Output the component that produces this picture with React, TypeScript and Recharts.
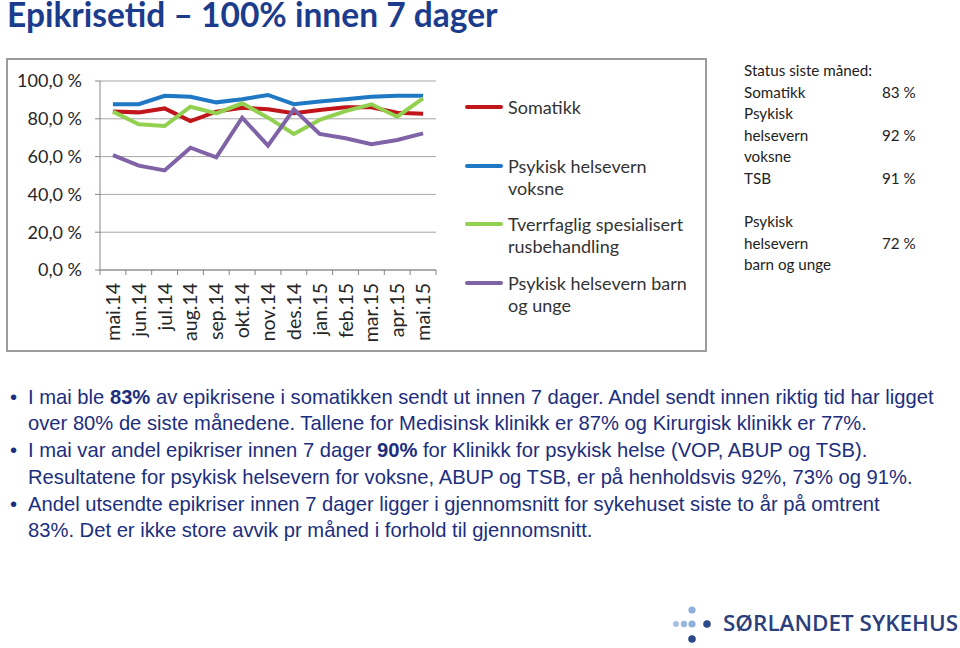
import { LineChart, Line, XAxis, YAxis, CartesianGrid, Legend } from "recharts";

const months = ["mai.14", "jun.14", "jul.14", "aug.14", "sep.14", "okt.14", "nov.14", "des.14", "jan.15", "feb.15", "mar.15", "apr.15", "mai.15"];
const somatikk = [83.8, 83.4, 85.5, 78.8, 83.8, 85.9, 85.0, 82.9, 84.7, 86.1, 86.1, 83.2, 82.7];
const voksne = [87.7, 87.7, 92.2, 91.7, 88.7, 90.3, 92.6, 87.7, 89.1, 90.3, 91.7, 92.2, 92.2];
const tsb = [83.8, 77.1, 76.2, 86.4, 82.9, 88.2, 80.6, 72.0, 79.4, 84.1, 87.7, 81.1, 90.8];
const barnUnge = [60.8, 55.2, 52.7, 64.7, 59.6, 80.6, 65.8, 85.0, 72.0, 69.7, 66.5, 68.8, 72.3];
const yTicks = [0, 20, 40, 60, 80, 100];

const seriesKeys = ["somatikk", "voksne", "tsb", "barn"];
const seriesNames = ["Somatikk", "Psykisk helsevern voksne", "Tverrfaglig spesialisert rusbehandling", "Psykisk helsevern barn og unge"];
const legendLabels = ["Somatikk", "Psykisk helsevern\nvoksne", "Tverrfaglig spesialisert\nrusbehandling", "Psykisk helsevern barn\nog unge"];
const seriesColors = ["#c0161b", "#1f78c4", "#92d050", "#7f63a6"];

const statusRows = [
  ["Status siste måned:", ""],
  ["Somatikk", "83 %"],
  ["Psykisk", ""],
  ["helsevern", "92 %"],
  ["voksne", ""],
  ["TSB", "91 %"],
  ["", ""],
  ["Psykisk", ""],
  ["helsevern", "72 %"],
  ["barn og unge", ""],
];

const data = months.map((m, i) => ({
  month: m,
  somatikk: somatikk[i],
  voksne: voksne[i],
  tsb: tsb[i],
  barn: barnUnge[i],
}));

const CHART_FONT = "Lato, 'Open Sans', sans-serif";
const TEXT_BLUE = "#1c2e7e";
const HALF_BAND = 336 / 26;

function MonthTick(props: any) {
  const { x, y, payload, index } = props;
  return (
    <g transform={`translate(${x},${y})`}>
      <line x1={-HALF_BAND} y1={0} x2={-HALF_BAND} y2={5} stroke="#868686" />
      {index === months.length - 1 && <line x1={HALF_BAND} y1={0} x2={HALF_BAND} y2={5} stroke="#868686" />}
      <text transform="rotate(-90)" x={-13} y={0} dy="0.36em" textAnchor="end" fill="#262626" fontSize={19.5} fontFamily={CHART_FONT}>
        {payload.value}
      </text>
    </g>
  );
}

function LegendBox(props: any) {
  const items = [...(props.payload || [])].sort(
    (a: any, b: any) => seriesNames.indexOf(a.value) - seriesNames.indexOf(b.value)
  );
  return (
    <div style={{ position: "relative", width: 245, height: 260 }}>
      {items.map((entry: any, i: number) => {
        const idx = seriesNames.indexOf(entry.value);
        return (
          <div key={entry.value} style={{ position: "absolute", left: 0, top: i * 58.5, display: "flex", alignItems: "flex-start" }}>
            <div style={{ width: 38, height: 4, background: entry.color, marginTop: 9, borderRadius: 2 }} />
            <div style={{ marginLeft: 5, whiteSpace: "pre-line", fontFamily: CHART_FONT, fontSize: 18, lineHeight: "22px", color: "#333" }}>
              {legendLabels[idx]}
            </div>
          </div>
        );
      })}
    </div>
  );
}

export default function App() {
  return (
    <div style={{ position: "absolute", left: 0, top: 0, width: 960, height: 648, background: "#fff", overflow: "hidden" }}>
      <div style={{ position: "absolute", left: 7, top: 1, fontFamily: "Lato, sans-serif", fontWeight: 700, fontSize: 33.5, lineHeight: "26px", color: "#1b3c8c", whiteSpace: "nowrap" }}>
        Epikrisetid – 100% innen 7 dager
      </div>

      <div style={{ position: "absolute", left: 6, top: 58, width: 701, height: 294, border: "2px solid #9c9c9c", boxSizing: "border-box" }} />

      <div style={{ position: "absolute", left: 7, top: 59 }}>
        <LineChart width={700} height={292} data={data} margin={{ top: 22, right: 271, bottom: 0, left: 0 }}>
          <CartesianGrid vertical={false} stroke="#a6a6a6" />
          <XAxis
            dataKey="month"
            height={81}
            padding={{ left: HALF_BAND, right: HALF_BAND }}
            axisLine={{ stroke: "#868686" }}
            tickLine={false}
            tickSize={0}
            tickMargin={0}
            interval={0}
            tick={<MonthTick />}
          />
          <YAxis
            width={93}
            domain={[0, 100]}
            ticks={yTicks}
            interval={0}
            axisLine={{ stroke: "#868686" }}
            tickLine={{ stroke: "#868686" }}
            tickSize={5}
            tickMargin={13}
            tick={{ fill: "#262626", fontSize: 18, fontFamily: CHART_FONT }}
            tickFormatter={(v: number) => `${v.toFixed(1).replace(".", ",")} %`}
          />
          <Legend
            layout="vertical"
            align="center"
            verticalAlign="middle"
            wrapperStyle={{ left: 458, top: 37, width: 245 }}
            content={<LegendBox />}
          />
          {seriesKeys.map((k, i) => (
            <Line
              key={k}
              type="linear"
              dataKey={k}
              name={seriesNames[i]}
              stroke={seriesColors[i]}
              strokeWidth={4}
              dot={false}
              activeDot={false}
              isAnimationActive={false}
            />
          ))}
        </LineChart>
      </div>

      <div style={{ position: "absolute", left: 744, top: 60, width: 200, fontFamily: CHART_FONT, fontSize: 15.2, lineHeight: "21.6px", color: "#222" }}>
        {statusRows.map((r, i) => (
          <div key={i} style={{ position: "relative", height: 21.6 }}>
            <span>{r[0]}</span>
            <span style={{ position: "absolute", left: 138 }}>{r[1]}</span>
          </div>
        ))}
      </div>

      <div style={{ position: "absolute", left: 0, top: 383.6, width: 960, fontFamily: "'Liberation Sans', Arial, sans-serif", fontSize: 20.2, lineHeight: "26.7px", color: TEXT_BLUE }}>
        {[
          [<>I mai ble <b>83%</b> av epikrisene i somatikken sendt ut innen 7 dager. Andel sendt innen riktig tid har ligget</>, <>over 80% de siste månedene. Tallene for Medisinsk klinikk er 87% og Kirurgisk klinikk er 77%.</>],
          [<>I mai var andel epikriser innen 7 dager <b>90%</b> for Klinikk for psykisk helse (VOP, ABUP og TSB).</>, <>Resultatene for psykisk helsevern for voksne, ABUP og TSB, er på henholdsvis 92%, 73% og 91%.</>],
          [<>Andel utsendte epikriser innen 7 dager ligger i gjennomsnitt for sykehuset siste to år på omtrent</>, <>83%. Det er ikke store avvik pr måned i forhold til gjennomsnitt.</>],
        ].map((lines, i) => (
          <div key={i} style={{ position: "absolute", top: i * 53.5, left: 0, width: 960 }}>
            <span style={{ position: "absolute", left: 10 }}>•</span>
            <div style={{ marginLeft: 28, whiteSpace: "nowrap" }}>
              {lines[0]}
              <br />
              {lines[1]}
            </div>
          </div>
        ))}
      </div>

      <svg style={{ position: "absolute", left: 660, top: 595 }} width={300} height={53}>
        <circle cx={32} cy={15} r={3.6} fill="#8fb0dc" />
        <circle cx={16} cy={29} r={2.9} fill="#a5bfe3" />
        <circle cx={24} cy={29} r={3.2} fill="#98b6df" />
        <circle cx={32} cy={29} r={3.6} fill="#8fb0dc" />
        <circle cx={47} cy={29} r={3.8} fill="#2a4a8c" />
        <circle cx={32} cy={44} r={3.8} fill="#2a4a8c" />
        <text x={63} y={36} fontFamily="'Open Sans', sans-serif" fontWeight={600} fontSize={22} fill="#2c3f7c" textLength={235} lengthAdjust="spacingAndGlyphs">
          SØRLANDET SYKEHUS
        </text>
      </svg>
    </div>
  );
}
